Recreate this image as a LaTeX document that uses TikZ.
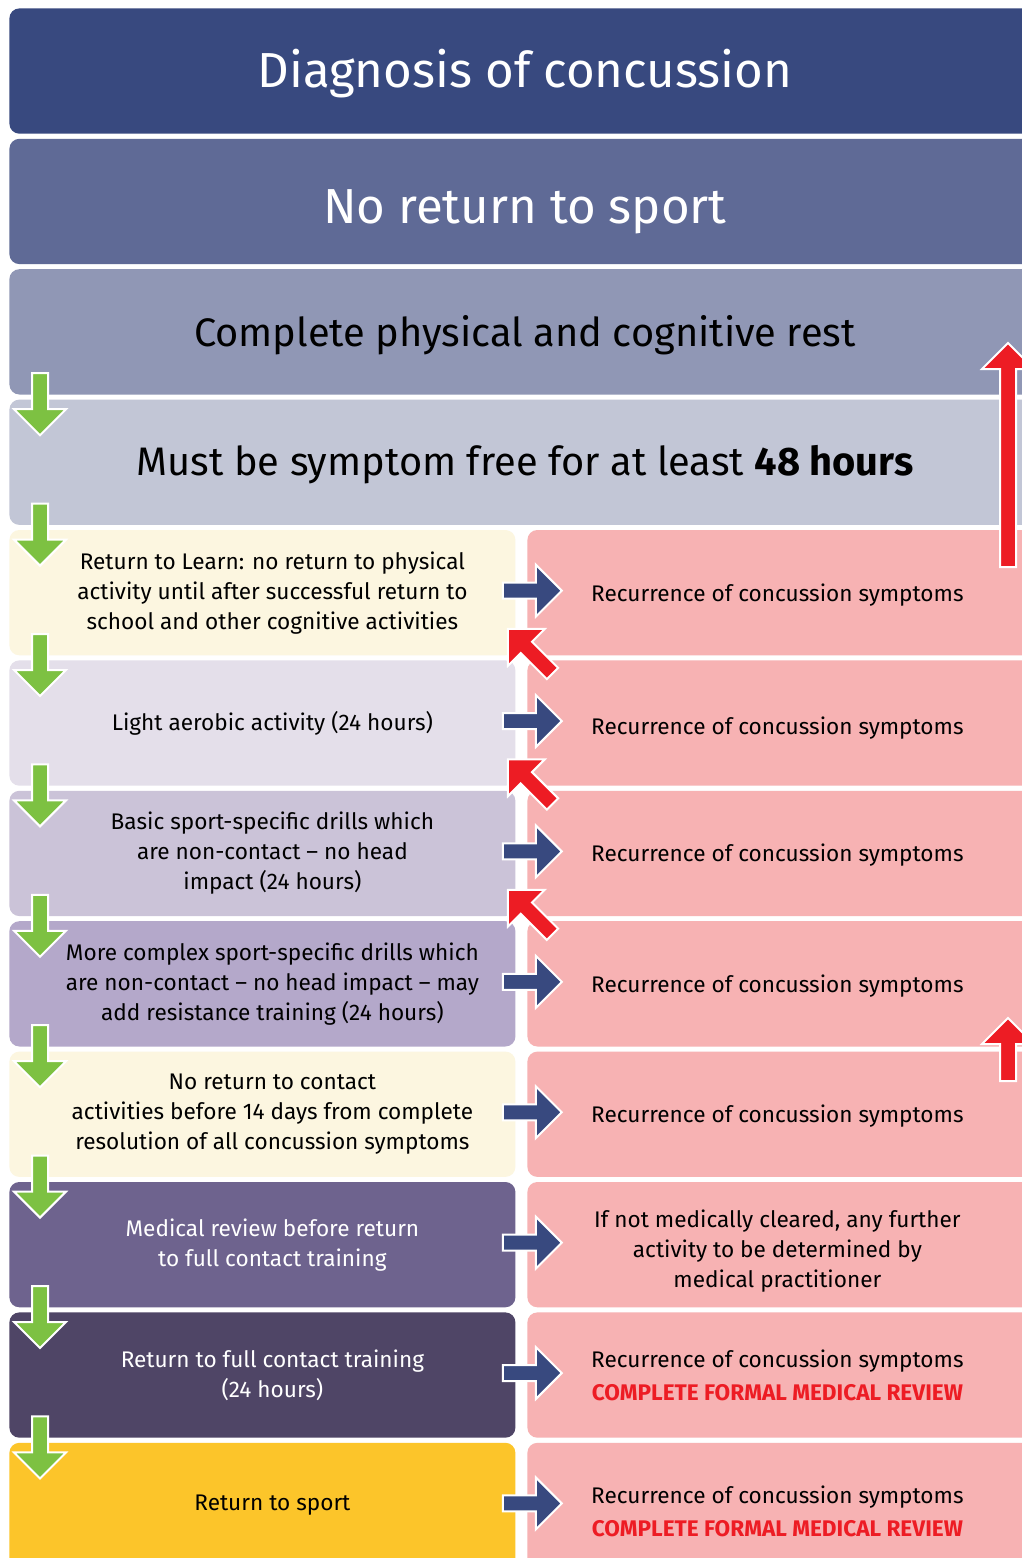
\documentclass[tikz,border=0pt]{standalone}
\usepackage{fontspec}
\setmainfont{Fira Sans}
\usetikzlibrary{positioning,calc}
\definecolor{navy}{HTML}{38497F}
\definecolor{slate}{HTML}{5F6A96}
\definecolor{haze}{HTML}{9097B5}
\definecolor{mist}{HTML}{C2C6D6}
\definecolor{cream}{HTML}{FCF6E0}
\definecolor{lilac}{HTML}{E4DFEA}
\definecolor{heather}{HTML}{CBC3D8}
\definecolor{mauve}{HTML}{B4A8CA}
\definecolor{plum}{HTML}{6E638E}
\definecolor{aubergine}{HTML}{4F4566}
\definecolor{sun}{HTML}{FCC52A}
\definecolor{blush}{HTML}{F7B2B3}
\definecolor{leaf}{HTML}{7DC142}
\definecolor{alarm}{HTML}{ED1C24}
\tikzset{
  band/.style={rounded corners=5pt, minimum height=62.65pt, inner sep=0pt, anchor=north west},
  wide/.style={band, minimum width=515.5pt},
  half/.style={band, minimum width=253pt},
  pinkbox/.style={band, fill=blush, minimum width=256.5pt},
  headline/.style={font=\fontsize{24.6}{29}\selectfont, anchor=base, inner sep=0pt},
  subline/.style={font=\fontsize{19.9}{24}\selectfont, anchor=base, inner sep=0pt},
  note/.style={font=\fontsize{11.3}{15}\selectfont, align=center, inner sep=0pt},
  pics/slab/.style={code={
    \filldraw[line width=1pt, draw=white] (0,-8) -- ({#1-26},-8) -- ({#1-26},-26)
      -- (#1,0) -- ({#1-26},26) -- ({#1-26},8) -- (0,8) -- cycle;
  }}
}
\begin{document}
\begin{tikzpicture}[x=0.5pt, y=-0.5pt]
  \useasboundingbox (0,0) rectangle (1022,1558);
  \clip (0,0) rectangle (1022,1558);
  \fill[white] (0,0) rectangle (1022,1558);
%
  \node[wide, fill=navy] (S0) at (9,8) {};
  \node[wide, fill=slate] (S1) at (9,138.4) {};
  \node[wide, fill=haze] (S2) at (9,268.8) {};
  \node[wide, fill=mist] (S3) at (9,399.2) {};
  \node[headline, text=white] (H0) at ([yshift=-8pt]S0.center) {Diagnosis of concussion};
  \node[headline, text=white] (H1) at ([yshift=-10.8pt]S1.center) {No return to sport};
  \node[subline] (H2) at ([yshift=-7.5pt]S2.center) {Complete physical and cognitive rest};
  \node[subline] (H3) at ([yshift=-6.5pt]S3.center) {Must be symptom free for at least \textbf{48 hours}};
%
  \foreach \i/\c in {4/cream,5/lilac,6/heather,7/mauve,8/cream,9/plum,10/aubergine,11/sun} {
    \node[half, fill=\c] (S\i) at (9,{8+130.4*\i}) {};
    \node[pinkbox] (R\i) at (527,{8+130.4*\i}) {};
  }
%
  \node[note] (T4) at ([xshift=5pt]S4.center) {Return to Learn: no return to physical\\activity until after successful return to\\school and other cognitive activities};
  \node[note] (T5) at ([xshift=5pt]S5.center) {Light aerobic activity (24 hours)};
  \node[note] (T6) at ([xshift=5pt]S6.center) {Basic sport-specific drills which\\are non-contact – no head\\impact (24 hours)};
  \node[note] (T7) at ([xshift=5pt]S7.center) {More complex sport-specific drills which\\are non-contact – no head impact – may\\add resistance training (24 hours)};
  \node[note] (T8) at ([xshift=5pt]S8.center) {No return to contact\\activities before 14 days from complete\\resolution of all concussion symptoms};
  \node[note, text=white] (T9) at ([xshift=5pt]S9.center) {Medical review before return\\to full contact training};
  \node[note, text=white] (T10) at ([xshift=5pt]S10.center) {Return to full contact training\\(24 hours)};
  \node[note] (T11) at ([xshift=5pt]S11.center) {Return to sport};
%
  \foreach \i in {4,6,7,8}
    \node[note] (U\i) at ([xshift=-3.25pt,yshift=-1pt]R\i.center) {Recurrence of concussion symptoms};
  \node[note] (U5) at ([xshift=-3.25pt,yshift=-2.5pt]R5.center) {Recurrence of concussion symptoms};
  \node[note] (U9) at ([xshift=-3.25pt,yshift=-3pt]R9.center) {If not medically cleared, any further\\activity to be determined by\\medical practitioner};
  \node[note] (U10) at ([xshift=-3.25pt]R10.center) {Recurrence of concussion symptoms\\[1.5pt]\textcolor{alarm}{\bfseries COMPLETE FORMAL MEDICAL REVIEW}};
  \node[note] (U11) at ([xshift=-3.25pt,yshift=-3pt]R11.center) {Recurrence of concussion symptoms\\[1.5pt]\textcolor{alarm}{\bfseries COMPLETE FORMAL MEDICAL REVIEW}};
%
  % steps down
  \foreach \i in {3,...,11}
    \pic[fill=leaf, rotate=-90] at ($(S\i.north west)+(31,-26)$) {slab=62};
  % recurrence
  \foreach \i in {4,...,11}
    \pic[fill=navy] at ($(S\i.east)+(-13,-2)$) {slab=59};
  % step back
  \foreach \i in {5,6,7}
    \pic[fill=alarm, rotate=135] at ($(R\i.north west)+(25.5,13.5)$) {slab=63};
  \pic[fill=alarm, rotate=90] at ($(R4.north west)+(481,37.4)$) {slab=224};
  \pic[fill=alarm, rotate=90] at ($(R8.north west)+(481,29.8)$) {slab=63};
\end{tikzpicture}
\end{document}
